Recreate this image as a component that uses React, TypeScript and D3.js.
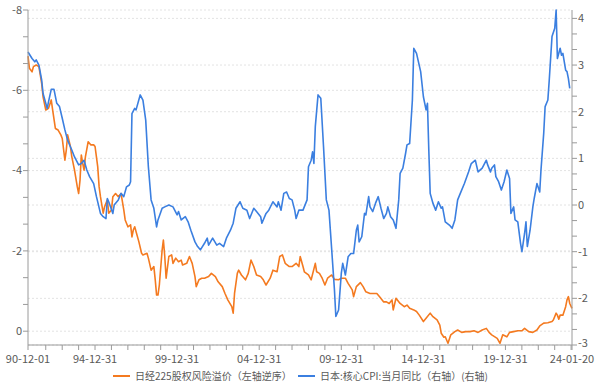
import { useEffect, useRef } from 'react'
import * as d3 from 'd3'

// 日经225股权风险溢价（左轴，逆序）
const erpSeries: [string, number][] = [
  ['1990-12', -6.85], ['1991-01', -6.55], ['1991-03', -6.46], ['1991-04', -6.59], ['1991-06', -6.63],
  ['1991-08', -6.59], ['1991-10', -6.17], ['1991-11', -5.84], ['1992-01', -5.51], ['1992-03', -5.55],
  ['1992-05', -5.76], ['1992-06', -5.51], ['1992-08', -5.05], ['1992-10', -5.01], ['1992-12', -4.89],
  ['1993-01', -4.8], ['1993-03', -4.26], ['1993-04', -4.51], ['1993-05', -4.89], ['1993-07', -4.6],
  ['1993-08', -4.35], ['1993-10', -4.01], ['1993-12', -3.6], ['1994-01', -3.43], ['1994-02', -3.77],
  ['1994-03', -4.39], ['1994-04', -4.18], ['1994-05', -4.01], ['1994-06', -4.35], ['1994-08', -4.72],
  ['1994-10', -4.64], ['1994-12', -4.64], ['1995-01', -4.6], ['1995-03', -4.1], ['1995-04', -3.6],
  ['1995-05', -3.35], ['1995-07', -2.94], ['1995-08', -3.1], ['1995-10', -3.27], ['1995-11', -2.94],
  ['1996-01', -3.02], ['1996-02', -3.35], ['1996-04', -3.43], ['1996-06', -3.35], ['1996-08', -3.43],
  ['1996-10', -3.02], ['1996-11', -2.77], ['1997-01', -2.6], ['1997-03', -2.65], ['1997-04', -2.35],
  ['1997-05', -2.52], ['1997-06', -2.6], ['1997-09', -2.23], ['1997-11', -1.94], ['1997-12', -1.9],
  ['1998-03', -1.94], ['1998-04', -1.82], ['1998-06', -1.52], ['1998-08', -1.61], ['1998-09', -1.28],
  ['1998-10', -0.9], ['1998-11', -0.9], ['1998-12', -1.15], ['1999-02', -2.02], ['1999-03', -2.27],
  ['1999-04', -1.86], ['1999-05', -1.32], ['1999-07', -1.86], ['1999-09', -1.9], ['1999-10', -1.69],
  ['1999-12', -1.82], ['2000-02', -1.73], ['2000-04', -1.77], ['2000-05', -1.65], ['2000-08', -1.69],
  ['2000-10', -1.86], ['2000-12', -1.69], ['2001-02', -1.36], ['2001-03', -1.11], ['2001-05', -1.28],
  ['2001-07', -1.32], ['2001-09', -1.32], ['2001-12', -1.36], ['2002-02', -1.44], ['2002-05', -1.36],
  ['2002-07', -1.23], ['2002-10', -1.11], ['2002-12', -0.94], ['2003-02', -0.78], ['2003-05', -0.61],
  ['2003-06', -0.45], ['2003-07', -0.94], ['2003-09', -1.44], ['2003-10', -1.52], ['2003-12', -1.4],
  ['2004-03', -1.28], ['2004-05', -1.44], ['2004-07', -1.77], ['2004-09', -1.61], ['2004-11', -1.4],
  ['2005-02', -1.36], ['2005-04', -1.28], ['2005-06', -1.15], ['2005-09', -1.32], ['2005-11', -1.52],
  ['2006-02', -1.48], ['2006-04', -1.86], ['2006-06', -1.9], ['2006-08', -1.69], ['2006-11', -1.61],
  ['2007-01', -1.61], ['2007-04', -1.69], ['2007-06', -1.61], ['2007-07', -1.86], ['2007-09', -1.61],
  ['2007-10', -1.48], ['2008-01', -1.4], ['2008-03', -1.28], ['2008-06', -1.69], ['2008-07', -1.48],
  ['2008-09', -1.44], ['2008-11', -1.32], ['2009-01', -1.15], ['2009-03', -1.32], ['2009-06', -1.4],
  ['2009-08', -1.29], ['2009-11', -1.28], ['2010-01', -1.32], ['2010-04', -1.32], ['2010-06', -1.19],
  ['2010-09', -1.03], ['2010-10', -0.86], ['2010-12', -1.11], ['2011-03', -1.21], ['2011-05', -1.11],
  ['2011-07', -0.98], ['2011-10', -0.94], ['2011-12', -0.94], ['2012-03', -0.94], ['2012-05', -0.86],
  ['2012-08', -0.73], ['2012-10', -0.73], ['2012-12', -0.69], ['2013-02', -0.78], ['2013-03', -0.53],
  ['2013-05', -0.82], ['2013-08', -0.69], ['2013-11', -0.61], ['2014-01', -0.65], ['2014-03', -0.57],
  ['2014-06', -0.53], ['2014-08', -0.49], ['2014-10', -0.4], ['2015-01', -0.24], ['2015-03', -0.32],
  ['2015-06', -0.45], ['2015-08', -0.36], ['2015-11', -0.28], ['2016-01', -0.15], ['2016-02', 0.05],
  ['2016-04', 0.15], ['2016-05', 0.14], ['2016-07', 0.3], ['2016-09', 0.09], ['2016-12', 0.01],
  ['2017-02', -0.03], ['2017-05', 0.03], ['2017-08', 0.01], ['2017-11', 0.01], ['2018-02', -0.01],
  ['2018-05', 0.03], ['2018-08', -0.03], ['2018-11', -0.07], ['2019-01', 0.03], ['2019-03', 0.09],
  ['2019-07', 0.18], ['2019-09', 0.3], ['2019-11', 0.09], ['2020-02', 0.14], ['2020-04', 0.03],
  ['2020-07', 0.01], ['2020-10', -0.01], ['2021-01', -0.01], ['2021-03', -0.07], ['2021-06', 0.01],
  ['2021-09', 0.03], ['2021-12', -0.03], ['2022-02', -0.13], ['2022-05', -0.2], ['2022-08', -0.21],
  ['2022-11', -0.24], ['2022-12', -0.28], ['2023-02', -0.45], ['2023-03', -0.4], ['2023-04', -0.3],
  ['2023-05', -0.4], ['2023-07', -0.4], ['2023-09', -0.61], ['2023-10', -0.78], ['2023-11', -0.86],
  ['2023-12', -0.69], ['2024-01-20', -0.57],
]

// 日本:核心CPI:当月同比（右轴）
const cpiSeries: [string, number][] = [
  ['1990-12', 3.28], ['1991-03', 3.14], ['1991-05', 3.07], ['1991-06', 3.11], ['1991-08', 3.0],
  ['1991-10', 2.68], ['1991-11', 2.39], ['1992-02', 2.07], ['1992-03', 2.21], ['1992-05', 2.48],
  ['1992-07', 2.48], ['1992-09', 2.18], ['1992-11', 2.11], ['1993-01', 1.86], ['1993-03', 1.61],
  ['1993-05', 1.39], ['1993-07', 1.25], ['1993-08', 1.18], ['1993-10', 1.03], ['1994-01', 0.86],
  ['1994-03', 0.89], ['1994-05', 0.96], ['1994-07', 0.75], ['1994-09', 0.61], ['1994-12', 0.46],
  ['1995-02', 0.18], ['1995-05', -0.18], ['1995-07', -0.25], ['1995-09', -0.29], ['1995-10', 0.14],
  ['1995-11', 0.07], ['1996-02', -0.18], ['1996-03', 0.0], ['1996-06', 0.11], ['1996-08', 0.25],
  ['1996-10', 0.18], ['1996-12', 0.39], ['1997-02', 0.43], ['1997-03', 0.5], ['1997-04', 1.96],
  ['1997-06', 2.07], ['1997-07', 2.04], ['1997-10', 2.36], ['1997-12', 2.25], ['1998-02', 1.82],
  ['1998-04', 0.82], ['1998-06', 0.11], ['1998-08', -0.07], ['1998-10', -0.47], ['1998-11', -0.32],
  ['1999-02', -0.07], ['1999-04', -0.04], ['1999-07', 0.0], ['1999-10', -0.04], ['2000-01', -0.21],
  ['2000-02', -0.14], ['2000-04', -0.32], ['2000-07', -0.25], ['2000-09', -0.36], ['2000-11', -0.54],
  ['2001-02', -0.79], ['2001-04', -0.89], ['2001-06', -0.96], ['2001-09', -0.82], ['2001-11', -0.71],
  ['2001-12', -0.86], ['2002-03', -0.71], ['2002-06', -0.86], ['2002-08', -0.82], ['2002-11', -0.89],
  ['2003-01', -0.71], ['2003-04', -0.54], ['2003-06', -0.39], ['2003-08', -0.07], ['2003-11', 0.07],
  ['2004-01', -0.07], ['2004-04', -0.11], ['2004-06', -0.29], ['2004-09', -0.07], ['2004-11', -0.14],
  ['2005-02', -0.25], ['2005-03', -0.39], ['2005-06', -0.18], ['2005-08', -0.11], ['2005-11', 0.07],
  ['2006-02', -0.04], ['2006-03', 0.07], ['2006-05', -0.11], ['2006-07', 0.25], ['2006-09', 0.28],
  ['2006-11', 0.14], ['2007-01', 0.11], ['2007-03', -0.11], ['2007-04', -0.29], ['2007-06', -0.11],
  ['2007-09', -0.11], ['2007-12', 0.11], ['2008-01', 0.82], ['2008-03', 0.96], ['2008-04', 1.14],
  ['2008-05', 0.89], ['2008-06', 1.68], ['2008-08', 2.36], ['2008-10', 2.29], ['2008-12', 1.25],
  ['2009-02', 0.11], ['2009-04', -0.11], ['2009-06', -0.96], ['2009-08', -1.82], ['2009-09', -2.39],
  ['2009-11', -2.25], ['2010-01', -1.46], ['2010-02', -1.25], ['2010-04', -1.5], ['2010-06', -1.11],
  ['2010-08', -1.04], ['2010-10', -1.04], ['2010-12', -0.54], ['2011-01', -0.43], ['2011-02', -0.79],
  ['2011-04', -0.68], ['2011-06', -0.18], ['2011-07', -0.21], ['2011-09', 0.18], ['2011-10', -0.04],
  ['2011-12', -0.14], ['2012-02', 0.04], ['2012-04', 0.18], ['2012-06', -0.07], ['2012-08', -0.29],
  ['2012-10', -0.18], ['2012-11', -0.04], ['2013-01', -0.25], ['2013-03', -0.32], ['2013-05', -0.5],
  ['2013-07', 0.11], ['2013-08', 0.68], ['2013-10', 0.79], ['2013-12', 1.11], ['2014-01', 1.29],
  ['2014-03', 1.32], ['2014-05', 2.25], ['2014-06', 3.36], ['2014-08', 3.25], ['2014-11', 2.86],
  ['2015-01', 2.32], ['2015-03', 2.04], ['2015-04', 2.18], ['2015-05', 1.18], ['2015-06', 0.25],
  ['2015-08', 0.04], ['2015-10', -0.11], ['2015-12', 0.07], ['2016-02', -0.07], ['2016-03', -0.04],
  ['2016-05', -0.36], ['2016-08', -0.43], ['2016-10', -0.5], ['2016-12', -0.32], ['2017-02', 0.11],
  ['2017-04', 0.25], ['2017-07', 0.46], ['2017-10', 0.71], ['2017-12', 0.89], ['2018-03', 0.96],
  ['2018-05', 0.71], ['2018-08', 0.79], ['2018-11', 0.96], ['2018-12', 0.86], ['2019-02', 0.71],
  ['2019-03', 0.79], ['2019-05', 0.86], ['2019-06', 0.61], ['2019-08', 0.5], ['2019-10', 0.32],
  ['2019-12', 0.5], ['2020-02', 0.75], ['2020-04', 0.57], ['2020-05', -0.18], ['2020-07', -0.04],
  ['2020-08', -0.32], ['2020-10', -0.36], ['2020-12', -0.82], ['2021-01', -1.0], ['2021-03', -0.61],
  ['2021-04', -0.36], ['2021-05', -0.89], ['2021-07', -0.54], ['2021-09', -0.04], ['2021-10', 0.14],
  ['2021-12', 0.46], ['2022-02', 0.28], ['2022-03', 0.75], ['2022-05', 1.54], ['2022-06', 2.11],
  ['2022-08', 2.25], ['2022-09', 2.68], ['2022-11', 3.61], ['2023-01', 3.79], ['2023-02', 4.18],
  ['2023-03', 3.14], ['2023-05', 3.36], ['2023-06', 3.21], ['2023-07', 3.25], ['2023-09', 2.89],
  ['2023-10', 2.86], ['2023-11', 2.71], ['2023-12', 2.5],
]

const leftTicks = [-8, -6, -4, -2, 0]
const rightTicks = [4, 3, 2, 1, 0, -1, -2, -3]
const xLabelDates = ['1990-12-01', '1994-12-31', '1999-12-31', '2004-12-31', '2009-12-31', '2014-12-31', '2019-12-31', '2024-01-20']
const legendLabels = ['日经225股权风险溢价（左轴逆序）', '日本:核心CPI:当月同比（右轴）(右轴)']
const seriesColors = ['#f47a20', '#3b7fe0']

const parseDate = (s: string) => {
  const [y, m, d] = s.split('-').map(Number)
  return new Date(y, m - 1, d || 1)
}

const W = 600
const H = 387
const FONT = '"Noto Sans CJK SC", "Noto Sans", sans-serif'

export default function App() {
  const svgRef = useRef<SVGSVGElement | null>(null)

  useEffect(() => {
    if (!svgRef.current) return
    const svg = d3.select(svgRef.current)
    svg.selectAll('*').remove()

    const x0 = 28, x1 = 572, yTop = 10, yBot = 345
    const start = parseDate('1990-12-01')
    const end = parseDate('2024-01-20')

    const x = d3.scaleTime().domain([start, end]).range([x0, x1])
    const yLeft = d3.scaleLinear().domain([-8, 0.344]).range([yTop, yBot])
    const yRight = d3.scaleLinear().domain([4.18, -3]).range([yTop, yBot])

    const axisColor = '#9a9a9a'
    const textColor = '#595959'

    // gridlines from both axes
    const grid = svg.append('g')
    const gridYs = [...leftTicks.map(v => yLeft(v)), ...rightTicks.map(v => yRight(v))]
    gridYs.forEach(gy => {
      grid.append('line')
        .attr('x1', x0).attr('x2', x1)
        .attr('y1', gy).attr('y2', gy)
        .attr('stroke', '#e3e3e3')
        .attr('stroke-width', 1)
        .attr('stroke-dasharray', '2,2')
    })

    // lines
    const erpLine = d3.line<[string, number]>()
      .x(d => x(parseDate(d[0])))
      .y(d => yLeft(d[1]))
    const cpiLine = d3.line<[string, number]>()
      .x(d => x(parseDate(d[0])))
      .y(d => yRight(d[1]))

    svg.append('path')
      .datum(erpSeries)
      .attr('d', erpLine)
      .attr('fill', 'none')
      .attr('stroke', seriesColors[0])
      .attr('stroke-width', 1.6)
      .attr('stroke-linejoin', 'round')

    svg.append('path')
      .datum(cpiSeries)
      .attr('d', cpiLine)
      .attr('fill', 'none')
      .attr('stroke', seriesColors[1])
      .attr('stroke-width', 1.6)
      .attr('stroke-linejoin', 'round')

    const axes = svg.append('g').attr('stroke', axisColor).attr('stroke-width', 1)
    axes.append('line').attr('x1', x0).attr('x2', x0).attr('y1', yTop).attr('y2', yBot)
    axes.append('line').attr('x1', x1).attr('x2', x1).attr('y1', yTop).attr('y2', yBot)
    axes.append('line').attr('x1', x0).attr('x2', x1).attr('y1', yBot).attr('y2', yBot)

    // left axis ticks (major every 2, minor every 2/3)
    d3.range(0, 13).map(i => -8 + (i * 2) / 3).filter(v => v <= 0.344).forEach(v => {
      axes.append('line').attr('x1', x0 - 5).attr('x2', x0).attr('y1', yLeft(v)).attr('y2', yLeft(v))
    })
    // right axis ticks (major every 1, minor every 1/3)
    d3.range(0, 22).map(i => -3 + i / 3).filter(v => v <= 4.18).forEach(v => {
      axes.append('line').attr('x1', x1).attr('x2', x1 + 5).attr('y1', yRight(v)).attr('y2', yRight(v))
    })
    // bottom ticks: start, each year end, end
    const yearEnds = d3.range(1991, 2024).map(y => new Date(y, 11, 31))
    ;[start, ...yearEnds, end].forEach(d => {
      axes.append('line').attr('x1', x(d)).attr('x2', x(d)).attr('y1', yBot).attr('y2', yBot + 5)
    })

    const labels = svg.append('g')
      .attr('font-family', FONT)
      .attr('font-size', 11)
      .attr('fill', textColor)

    leftTicks.forEach(v => {
      labels.append('text')
        .attr('x', x0 - 6)
        .attr('y', yLeft(v))
        .attr('dy', '0.35em')
        .attr('text-anchor', 'end')
        .text(String(v))
    })
    rightTicks.forEach(v => {
      labels.append('text')
        .attr('x', x1 + 6)
        .attr('y', v === -3 ? yRight(v) - 1.5 : yRight(v))
        .attr('dy', '0.35em')
        .attr('text-anchor', 'start')
        .text(String(v))
    })
    const fmt = d3.timeFormat('%y-%m-%d')
    xLabelDates.forEach(s => {
      labels.append('text')
        .attr('x', x(parseDate(s)))
        .attr('y', 363)
        .attr('text-anchor', 'middle')
        .text(fmt(parseDate(s)))
    })

    // legend
    const legendX = [113, 298]
    legendLabels.forEach((label, i) => {
      const g = svg.append('g').attr('transform', `translate(${legendX[i]},376)`)
      g.append('line')
        .attr('x1', 0).attr('x2', 17)
        .attr('stroke', seriesColors[i])
        .attr('stroke-width', 2)
      g.append('text')
        .attr('x', 22)
        .attr('dy', '0.35em')
        .attr('font-family', FONT)
        .attr('font-size', 10)
        .attr('fill', textColor)
        .text(label)
    })
  }, [])

  return (
    <svg
      ref={svgRef}
      width={W}
      height={H}
      style={{ position: 'absolute', left: 0, top: 0, background: '#fff' }}
    />
  )
}
